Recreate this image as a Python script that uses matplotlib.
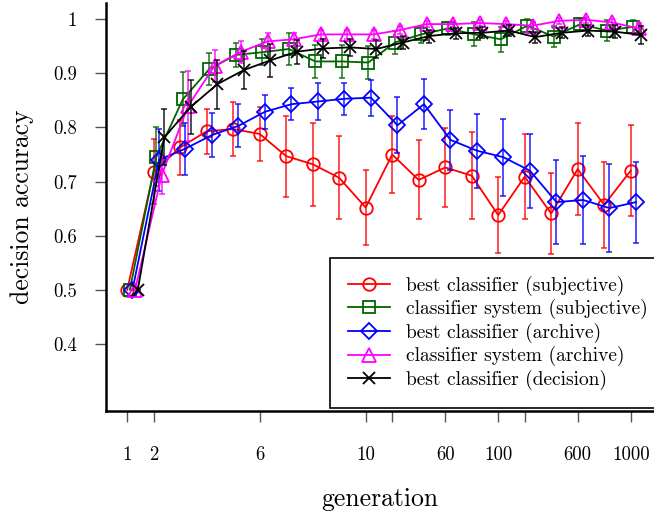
import numpy as np
import matplotlib
matplotlib.use("Agg")
import matplotlib.pyplot as plt

plt.rcParams['font.family'] = ['cmr10', 'DejaVu Serif']
plt.rcParams['axes.formatter.use_mathtext'] = True

# generations shown on the (index based) x axis
generations = [1, 2, 3, 4, 5, 6, 7, 8, 9, 10, 20, 40, 60, 80, 100, 200, 400, 600, 800, 1000]
tick_pos = [1, 2, 6, 10, 11, 13, 15, 16, 18, 20]
tick_lab = ['1', '2', '6', '10', '', '60', '100', '', '600', '1000']

best_subj = [0.5, 0.718, 0.763, 0.793, 0.797, 0.788, 0.747, 0.732, 0.707, 0.652,
             0.750, 0.703, 0.726, 0.711, 0.638, 0.709, 0.641, 0.723, 0.657, 0.720]
best_subj_err = [0, 0.06, 0.05, 0.042, 0.05, 0.05, 0.075, 0.077, 0.077, 0.07,
                 0.072, 0.073, 0.073, 0.08, 0.07, 0.078, 0.075, 0.085, 0.08, 0.084]

sys_subj = [0.5, 0.746, 0.852, 0.908, 0.934, 0.939, 0.945, 0.922, 0.922, 0.92,
            0.957, 0.972, 0.983, 0.972, 0.963, 0.988, 0.968, 0.991, 0.979, 0.986]
sys_subj_err = [0, 0.055, 0.05, 0.03, 0.023, 0.024, 0.03, 0.03, 0.03, 0.03,
                0.021, 0.015, 0.012, 0.022, 0.023, 0.012, 0.02, 0.012, 0.02, 0.012]

best_arch = [0.5, 0.74, 0.761, 0.786, 0.803, 0.829, 0.843, 0.848, 0.853, 0.855,
             0.804, 0.843, 0.777, 0.757, 0.745, 0.72, 0.662, 0.666, 0.651, 0.662]
best_arch_err = [0, 0.057, 0.048, 0.04, 0.04, 0.031, 0.03, 0.035, 0.03, 0.033,
                 0.052, 0.046, 0.056, 0.068, 0.071, 0.068, 0.078, 0.081, 0.081, 0.075]

sys_arch = [0.5, 0.712, 0.84, 0.914, 0.94, 0.959, 0.963, 0.972, 0.972, 0.972,
            0.980, 0.991, 0.991, 0.993, 0.991, 0.988, 0.997, 0.999, 0.994, 0.983]
sys_arch_err = [0, 0.035, 0.065, 0.03, 0.02, 0.015, 0.012, 0.008, 0.008, 0.008,
                0.008, 0.006, 0.006, 0.006, 0.006, 0.006, 0.006, 0.006, 0.006, 0.01]

best_dec = [0.5, 0.782, 0.838, 0.88, 0.906, 0.924, 0.94, 0.946, 0.948, 0.945,
            0.957, 0.969, 0.974, 0.975, 0.979, 0.967, 0.975, 0.979, 0.977, 0.971]
best_dec_err = [0, 0.052, 0.05, 0.045, 0.035, 0.03, 0.022, 0.018, 0.016, 0.016,
                0.012, 0.012, 0.01, 0.01, 0.01, 0.01, 0.01, 0.01, 0.012, 0.017]

series = [
    ("best classifier (subjective)", best_subj, best_subj_err, '#ff0000', 'o', 9),
    ("classifier system (subjective)", sys_subj, sys_subj_err, '#006400', 's', 8.5),
    ("best classifier (archive)", best_arch, best_arch_err, '#0000ff', 'D', 8),
    ("classifier system (archive)", sys_arch, sys_arch_err, '#ff00ff', '^', 9.5),
    ("best classifier (decision)", best_dec, best_dec_err, '#000000', 'x', 9),
]

fig = plt.figure(figsize=(6.54, 5.15), dpi=100)
ax = fig.add_axes([106/654, 104/515, 548/654, 408/515])

pos = np.arange(1, len(generations) + 1)
handles = []
for k, (lab, y, e, c, m, ms) in enumerate(series):
    x = pos + 0.1 * k
    ax.errorbar(x[1:], y[1:], yerr=e[1:], fmt='none', ecolor=c, alpha=0.75,
                elinewidth=1.3, capsize=2, capthick=1.3)
    h, = ax.plot(x, y, color=c, marker=m, ms=ms, mfc='none', mec=c, mew=1.3, lw=1.3, label=lab)
    handles.append(h)

ax.set_xlim(0.2, 20.88)
ax.set_ylim(0.276, 1.03)
ax.set_xticks(tick_pos)
ax.set_xticklabels(tick_lab)
ax.set_yticks([0.4, 0.5, 0.6, 0.7, 0.8, 0.9, 1.0])
ax.set_yticklabels(['0.4', '0.5', '0.6', '0.7', '0.8', '0.9', '1'])
ax.tick_params(axis='both', direction='out', length=8, width=1, color='#555555', labelsize=13.5)
ax.tick_params(axis='x', pad=17)
ax.tick_params(axis='y', pad=13)

for s in ['top', 'right']:
    ax.spines[s].set_visible(False)
for s in ['left', 'bottom']:
    ax.spines[s].set_linewidth(1.8)

ax.set_xlabel('generation', fontsize=18.5, labelpad=17)
ax.set_ylabel('decision accuracy', fontsize=18.5, labelpad=14)

leg = ax.legend(handles=handles, loc='upper left', bbox_to_anchor=(330/654, 1 - 258/515),
                bbox_transform=fig.transFigure, borderaxespad=0, fontsize=14,
                fancybox=False, edgecolor='black', framealpha=1, handlelength=2.2,
                labelspacing=0.18, borderpad=0.9)
leg.get_frame().set_linewidth(1.2)

fig.savefig('out.png', dpi=100)
